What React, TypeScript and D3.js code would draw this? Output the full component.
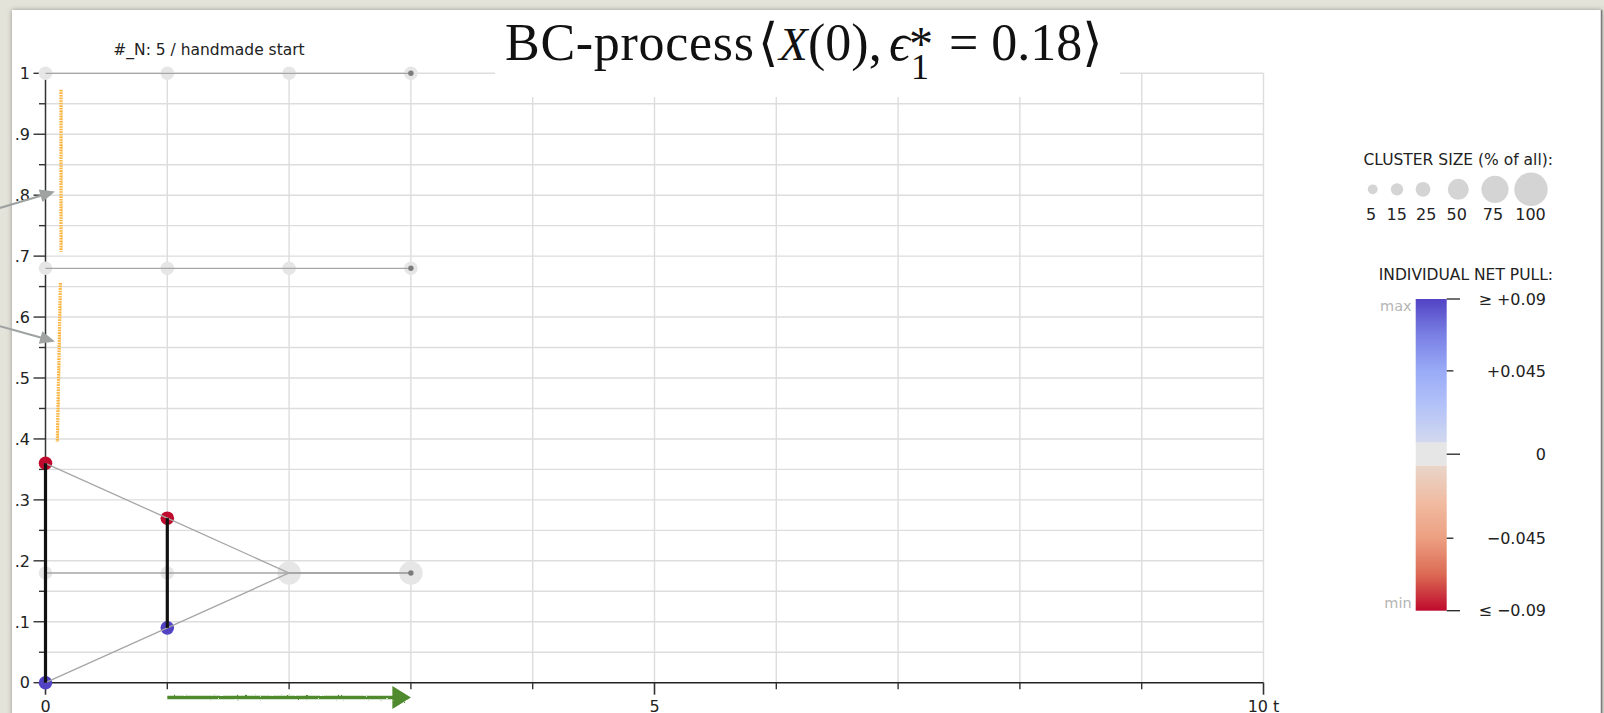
import React from 'react';
import * as d3 from 'd3';

// ---------------- data ----------------
const timeSteps = [0, 1, 2, 3];
const agentOpinions: number[][] = [
  [1, 1, 1, 1],
  [0.68, 0.68, 0.68, 0.68],
  [0.36, 0.27, 0.18, 0.18],
  [0.18, 0.18, 0.18, 0.18],
  [0, 0.09, 0.18, 0.18],
];
const agentNetPull: number[][] = [
  [0, 0, 0, 0],
  [0, 0, 0, 0],
  [-0.09, -0.09, 0, 0],
  [0, 0, 0, 0],
  [0.09, 0.09, 0, 0],
];
const interactionLinks = [
  { t: 0, lo: 0, hi: 0.36 },
  { t: 1, lo: 0.09, hi: 0.27 },
];
const orangeBands = [
  { tTop: 0.127, tBottom: 0.127, lo: 0.707, hi: 0.973 },
  { tTop: 0.122, tBottom: 0.097, lo: 0.395, hi: 0.656 },
];
const pointerArrows = [
  { t0: -0.374, v0: 0.779, t1: 0.078, v1: 0.806 },
  { t0: -0.374, v0: 0.585, t1: 0.078, v1: 0.56 },
];
const progressSpan = [1, 3];
const yMajorTicks = [0, 0.1, 0.2, 0.3, 0.4, 0.5, 0.6, 0.7, 0.8, 0.9, 1];
const yTickLabels = ['0', '.1', '.2', '.3', '.4', '.5', '.6', '.7', '.8', '.9', '1'];
const xMajorTicks = [0, 5, 10];
const xTickLabels = ['0', '5', '10 t'];
const sizeLegendPct = [5, 15, 25, 50, 75, 100];
const pullLegendTicks = [0.09, 0.045, 0, -0.045, -0.09];
const pullLegendLabels = ['≥ +0.09', '+0.045', '0', '−0.045', '≤ −0.09'];
const pullColorsPos = ['#d2d8ee', '#b4c3f8', '#99aaf7', '#7a80e4', '#5243c4'];
const pullColorsNeg = ['#e8d5ca', '#f1bca2', '#ec9f81', '#dc6a54', '#bf0a2d'];
const zeroPullColor = '#e6e6e6';
const N = agentOpinions.length;

// ---------------- layout ----------------
const W = 1604;
const H = 713;
const FONT = "'DejaVu Sans', 'Liberation Sans', sans-serif";
const SERIF = "'Liberation Serif', 'DejaVu Serif', 'Times New Roman', serif";

const x = d3.scaleLinear().domain([0, 10]).range([45.5, 1263.5]);
const y = d3.scaleLinear().domain([0, 1]).range([682.7, 73.3]);
const rSize = d3.scaleLinear().domain([0, 100]).range([4.3, 16.7]);

const posScale = d3.scaleLinear<string>().domain([0, 0.0225, 0.045, 0.0675, 0.09]).range(pullColorsPos).clamp(true);
const negScale = d3.scaleLinear<string>().domain([0, 0.0225, 0.045, 0.0675, 0.09]).range(pullColorsNeg).clamp(true);
const pullColor = (v: number) => (v > 1e-9 ? posScale(v) : v < -1e-9 ? negScale(-v) : zeroPullColor);

// color bar geometry
const barX = 1415.7;
const barW = 31;
const barPosScale = d3.scaleLinear().domain([0, 0.09]).range([442.7, 299]);
const barNegScale = d3.scaleLinear().domain([-0.09, 0]).range([610.7, 465.7]);
const barY = (v: number) => (v > 0 ? barPosScale(v) : v < 0 ? barNegScale(v) : (442.7 + 465.7) / 2);

const sizeLegendCircleX = [1372.7, 1397, 1423, 1458.3, 1495, 1531];
const sizeLegendLabelX = [1371, 1396.7, 1426.2, 1456.7, 1493, 1530.5];

export default function App() {
  // clusters per time step
  const clusters: { t: number; v: number; count: number; pull: number; last: boolean }[] = [];
  timeSteps.forEach((t, ti) => {
    const groups = d3.group(
      agentOpinions.map((a, i) => ({ v: a[ti], p: agentNetPull[i][ti] })),
      (d) => `${d.v.toFixed(4)}|${d.p.toFixed(4)}`
    );
    groups.forEach((arr) => {
      clusters.push({ t, v: arr[0].v, count: arr.length, pull: d3.mean(arr, (d) => d.p) || 0, last: ti === timeSteps.length - 1 });
    });
  });
  clusters.sort((a, b) => b.count - a.count);

  const line = d3
    .line<number>()
    .x((_, i) => x(timeSteps[i]))
    .y((d) => y(d));

  const hGrid = d3.range(1, 21).map((i) => i * 0.05);
  const vGrid = d3.range(1, 11);
  const yMinor = d3.range(0, 10).map((i) => i * 0.1 + 0.05);
  const xMinor = d3.range(0, 11).filter((v) => !xMajorTicks.includes(v));

  const gradStops = d3.range(0, 1.0001, 0.05);

  const arrowPath = (x0: number, y0: number, x1: number, y1: number, len: number, half: number) => {
    const dx = x1 - x0;
    const dy = y1 - y0;
    const L = Math.hypot(dx, dy);
    const ux = dx / L;
    const uy = dy / L;
    const bx = x1 - ux * len;
    const by = y1 - uy * len;
    return {
      shaft: [x0, y0, bx + ux * 1, by + uy * 1],
      head: `${x1},${y1} ${bx - uy * half},${by + ux * half} ${bx + uy * half},${by - ux * half}`,
    };
  };

  const progY = 697.5;
  const prog = arrowPath(x(progressSpan[0]), progY, x(progressSpan[1]), progY, 18.5, 11.5);

  return (
    <>
      <style>{'body{margin:0;}'}</style>
      <svg width={W} height={H} style={{ position: 'fixed', left: 0, top: 0, display: 'block' }} fontFamily={FONT}>
        <defs>
          <linearGradient id="barPos" x1="0" y1="1" x2="0" y2="0">
            {gradStops.map((s) => (
              <stop key={s} offset={s} stopColor={pullColor(0.0001 + s * 0.0899)} />
            ))}
          </linearGradient>
          <linearGradient id="barNeg" x1="0" y1="0" x2="0" y2="1">
            {gradStops.map((s) => (
              <stop key={s} offset={s} stopColor={pullColor(-(0.0001 + s * 0.0899))} />
            ))}
          </linearGradient>
          <filter id="winShadow" x="-5%" y="-5%" width="110%" height="110%">
            <feDropShadow dx="0" dy="0" stdDeviation="2.5" floodColor="#000" floodOpacity="0.35" />
          </filter>
          <filter id="rough" x="-5%" y="-50%" width="110%" height="200%">
            <feTurbulence type="fractalNoise" baseFrequency="0.35" numOctaves="2" seed="3" />
            <feDisplacementMap in="SourceGraphic" scale="2.2" />
          </filter>
        </defs>

        {/* window frame */}
        <rect x={0} y={0} width={W} height={H} fill="#e4e3da" />
        <rect x={12} y={10} width={1590} height={H} fill="#ffffff" filter="url(#winShadow)" />
        <line x1={1601.5} x2={1601.5} y1={10} y2={H} stroke="#7a7a7a" strokeWidth={1.5} />

        {/* grid */}
        {hGrid.map((v) => (
          <line key={'h' + v} x1={x(0)} x2={x(10)} y1={y(v)} y2={y(v)} stroke="#dddddd" strokeWidth={1.4} />
        ))}
        {vGrid.map((t) => (
          <line key={'v' + t} x1={x(t)} x2={x(t)} y1={y(0)} y2={y(1)} stroke="#dddddd" strokeWidth={1.4} />
        ))}

        {/* title box */}
        <rect x={495} y={10} width={625} height={87} fill="#ffffff" />
        <text x={505} y={60} fontFamily={SERIF} fontSize={52} fill="#111">
          <tspan letterSpacing={0.7}>BC-process</tspan>
          <tspan x={758}>⟨</tspan>
          <tspan x={779} fontStyle="italic" fontSize={47}>X</tspan>
          <tspan x={808}>(0),</tspan>
          <tspan x={889} fontStyle="italic">ϵ</tspan>
          <tspan x={909} y={60} fontSize={48}>*</tspan>
          <tspan x={911} y={79.3} fontSize={36}>1</tspan>
          <tspan x={949} y={60}>= 0.18⟩</tspan>
        </text>

        {/* subplot title */}
        <text x={209} y={55} textAnchor="middle" fontSize={15.5} fill="#222">
          #_N: 5 / handmade start
        </text>

        {/* axes */}
        <line x1={x(0)} x2={x(10)} y1={y(0)} y2={y(0)} stroke="#222" strokeWidth={1.6} />
        <line x1={x(0)} x2={x(0)} y1={y(0)} y2={y(1)} stroke="#333" strokeWidth={1.5} />
        {yMajorTicks.map((v, i) => (
          <g key={'yt' + v}>
            <line x1={x(0) - 12} x2={x(0)} y1={y(v)} y2={y(v)} stroke="#333" strokeWidth={1.4} />
            <text x={x(0) - 15.5} y={y(v)} dy="0.36em" textAnchor="end" fontSize={16} fill="#222">
              {yTickLabels[i]}
            </text>
          </g>
        ))}
        {yMinor.map((v) => (
          <line key={'ym' + v} x1={x(0) - 6.5} x2={x(0)} y1={y(v)} y2={y(v)} stroke="#333" strokeWidth={1.4} />
        ))}
        {xMajorTicks.map((t, i) => (
          <g key={'xt' + t}>
            <line x1={x(t)} x2={x(t)} y1={y(0)} y2={y(0) + 12} stroke="#333" strokeWidth={1.6} />
            <text x={x(t)} y={712} textAnchor="middle" fontSize={16} fill="#222">
              {xTickLabels[i]}
            </text>
          </g>
        ))}
        {xMinor.map((t) => (
          <line key={'xm' + t} x1={x(t)} x2={x(t)} y1={y(0)} y2={y(0) + 6.5} stroke="#333" strokeWidth={1.4} />
        ))}

        {/* orange bands */}
        {orangeBands.map((b, i) => (
          <g key={'ob' + i}>
            <line x1={x(b.tTop)} x2={x(b.tBottom)} y1={y(b.hi)} y2={y(b.lo)} stroke="#f9b13c" strokeWidth={3.2} strokeDasharray="1.6 1" />
            <line x1={x(b.tTop) + 0.8} x2={x(b.tBottom) + 0.8} y1={y(b.hi) + 1} y2={y(b.lo)} stroke="#fcc35e" strokeWidth={1.6} strokeDasharray="1 1.4" />
          </g>
        ))}

        {/* cluster circles */}
        {clusters.map((c, i) => (
          <circle key={'c' + i} cx={x(c.t)} cy={y(c.v)} r={rSize((c.count / N) * 100)} fill={pullColor(c.pull)} />
        ))}

        {/* trajectories */}
        {agentOpinions.map((a, i) => (
          <path key={'tr' + i} d={line(a) || ''} fill="none" stroke="#a6a6a6" strokeWidth={1.3} />
        ))}

        {/* interaction links */}
        {interactionLinks.map((l, i) => (
          <line key={'lk' + i} x1={x(l.t)} x2={x(l.t)} y1={y(l.lo)} y2={y(l.hi)} stroke="#111" strokeWidth={3.2} />
        ))}

        {/* final-state markers */}
        {clusters
          .filter((c) => c.last)
          .map((c, i) => (
            <circle key={'f' + i} cx={x(c.t)} cy={y(c.v)} r={2.7} fill="#7c7c7c" />
          ))}

        {/* progress arrow */}
        <g filter="url(#rough)">
          <line x1={prog.shaft[0]} y1={prog.shaft[1]} x2={prog.shaft[2]} y2={prog.shaft[3]} stroke="#4f8a2d" strokeWidth={3.6} />
          <polygon points={prog.head} fill="#4f8a2d" />
        </g>

        {/* pointer arrows */}
        {pointerArrows.map((p, i) => {
          const a = arrowPath(x(p.t0), y(p.v0), x(p.t1), y(p.v1), 15, 6.5);
          return (
            <g key={'pa' + i}>
              <line x1={a.shaft[0]} y1={a.shaft[1]} x2={a.shaft[2]} y2={a.shaft[3]} stroke="#9ea3a1" strokeWidth={2.2} />
              <polygon points={a.head} fill="#9ea3a1" />
            </g>
          );
        })}

        {/* size legend */}
        <text x={1553} y={165} textAnchor="end" fontSize={15.5} fill="#222">
          CLUSTER SIZE (% of all):
        </text>
        {sizeLegendPct.map((p, i) => (
          <g key={'sl' + p}>
            <circle cx={sizeLegendCircleX[i]} cy={189.3} r={rSize(p)} fill="#d4d4d4" />
            <text x={sizeLegendLabelX[i]} y={219.5} textAnchor="middle" fontSize={16} fill="#222">
              {p}
            </text>
          </g>
        ))}

        {/* pull legend */}
        <text x={1553} y={280} textAnchor="end" fontSize={15.5} fill="#222">
          INDIVIDUAL NET PULL:
        </text>
        <rect x={barX} y={barY(0.09)} width={barW} height={barPosScale(0) - barPosScale(0.09)} fill="url(#barPos)" />
        <rect x={barX} y={barPosScale(0)} width={barW} height={barNegScale(0) - barPosScale(0)} fill={zeroPullColor} />
        <rect x={barX} y={barNegScale(0)} width={barW} height={barNegScale(-0.09) - barNegScale(0)} fill="url(#barNeg)" />
        {pullLegendTicks.map((v, i) => {
          const long = v === 0 || Math.abs(v) >= 0.09;
          return (
            <g key={'pl' + v}>
              <line x1={barX + barW} x2={barX + barW + (long ? 13.3 : 6.7)} y1={barY(v)} y2={barY(v)} stroke="#222" strokeWidth={1.3} />
              <text x={1546} y={barY(v)} dy="0.36em" textAnchor="end" fontSize={16} fill="#222">
                {pullLegendLabels[i]}
              </text>
            </g>
          );
        })}
        <text x={barX - 4} y={barY(0.09) + 6.5} dy="0.36em" textAnchor="end" fontSize={14.5} fill="#b5b5b5">
          max
        </text>
        <text x={barX - 4} y={barY(-0.09) - 7.5} dy="0.36em" textAnchor="end" fontSize={14.5} fill="#b5b5b5">
          min
        </text>
      </svg>
    </>
  );
}
